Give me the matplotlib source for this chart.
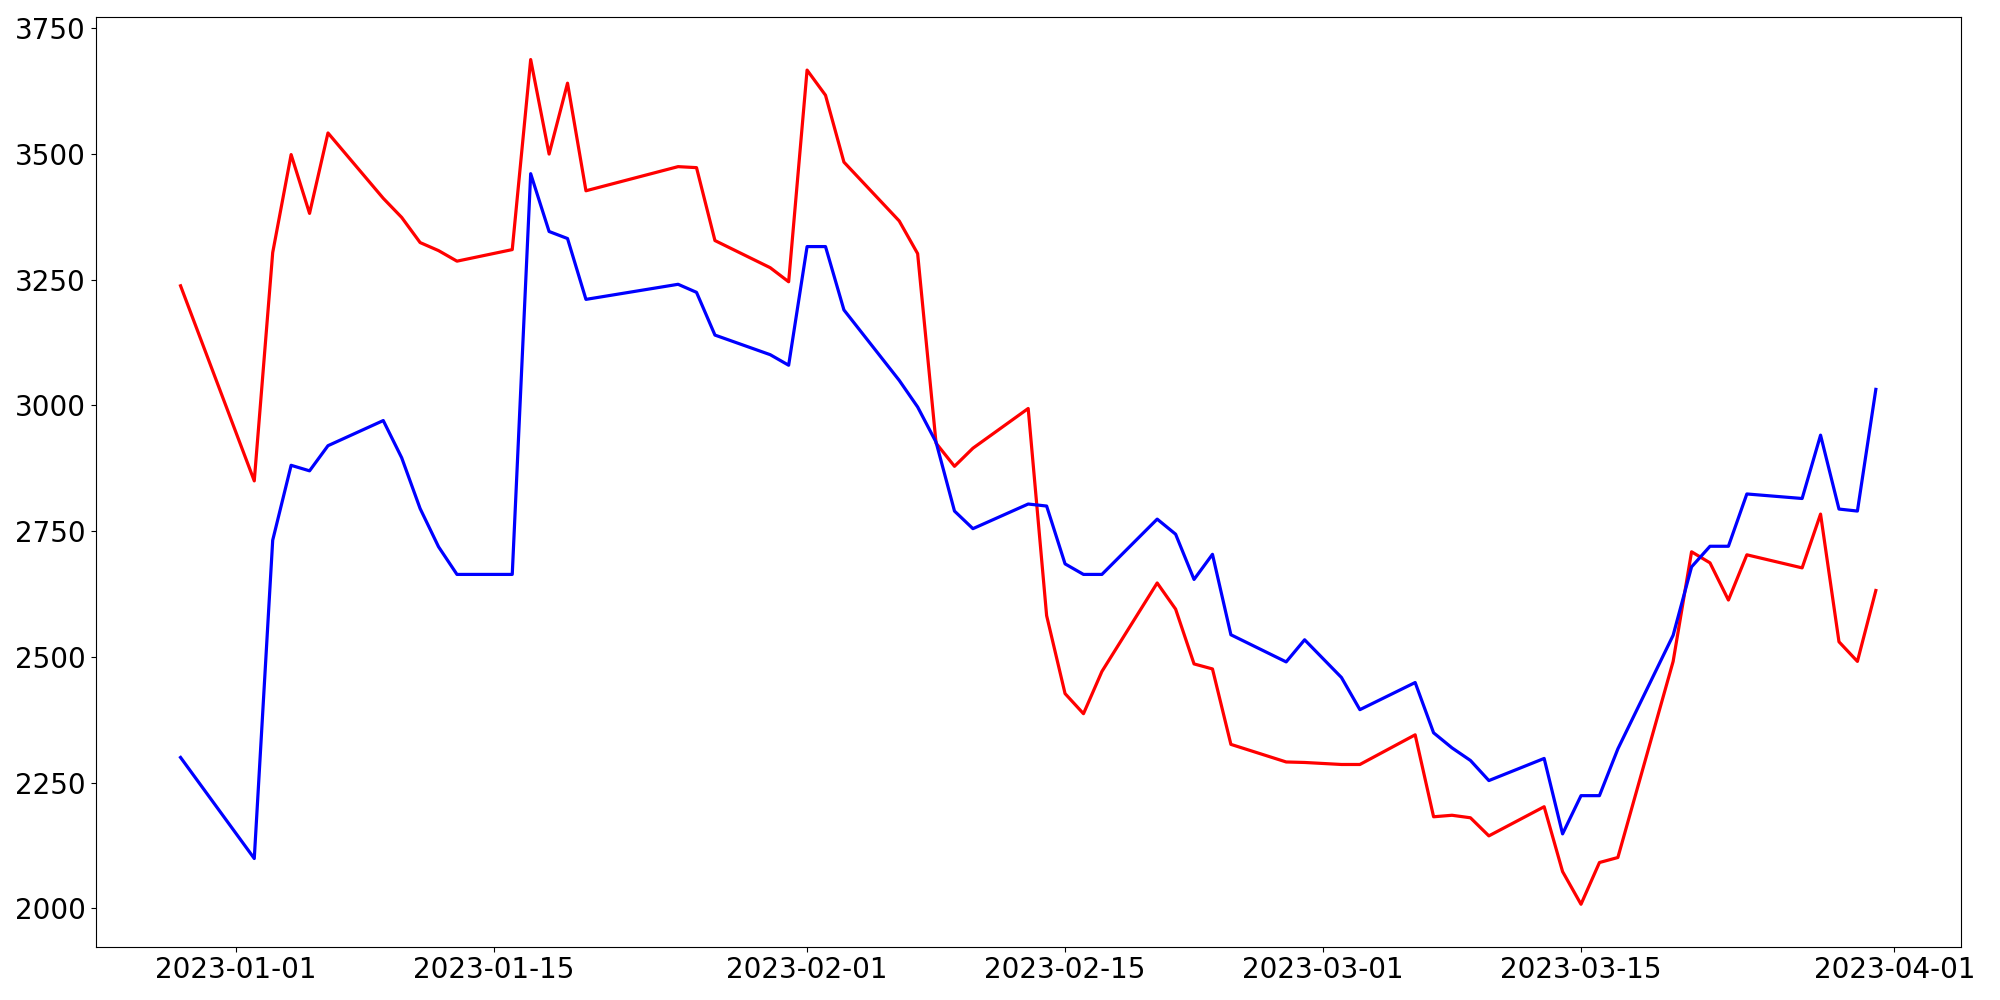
import matplotlib
matplotlib.use("Agg")
import matplotlib.pyplot as plt
import matplotlib.dates as mdates
import pandas as pd

dates = ["2022-12-29", "2023-01-02", "2023-01-03", "2023-01-04", "2023-01-05", "2023-01-06",
         "2023-01-09", "2023-01-10", "2023-01-11", "2023-01-12", "2023-01-13", "2023-01-16",
         "2023-01-17", "2023-01-18", "2023-01-19", "2023-01-20", "2023-01-25", "2023-01-26",
         "2023-01-27", "2023-01-30", "2023-01-31", "2023-02-01", "2023-02-02", "2023-02-03",
         "2023-02-06", "2023-02-07", "2023-02-08", "2023-02-09", "2023-02-10", "2023-02-13",
         "2023-02-14", "2023-02-15", "2023-02-16", "2023-02-17", "2023-02-20", "2023-02-21",
         "2023-02-22", "2023-02-23", "2023-02-24", "2023-02-27", "2023-02-28", "2023-03-02",
         "2023-03-03", "2023-03-06", "2023-03-07", "2023-03-08", "2023-03-09", "2023-03-10",
         "2023-03-13", "2023-03-14", "2023-03-15", "2023-03-16", "2023-03-17", "2023-03-20",
         "2023-03-21", "2023-03-22", "2023-03-23", "2023-03-24", "2023-03-27", "2023-03-28",
         "2023-03-29", "2023-03-30", "2023-03-31"]

red_values = [3238, 2850, 3304, 3499, 3382, 3542,
              3412, 3374, 3324, 3308, 3287, 3310,
              3688, 3500, 3641, 3427, 3475, 3473,
              3328, 3274, 3246, 3667, 3617, 3484,
              3367, 3302, 2925, 2879, 2915, 2994,
              2582, 2427, 2387, 2471, 2647, 2595,
              2486, 2476, 2326, 2291, 2290, 2286,
              2286, 2345, 2182, 2185, 2180, 2144,
              2202, 2073, 2008, 2091, 2101, 2491,
              2709, 2687, 2613, 2703, 2677, 2784,
              2530, 2491, 2632]

blue_values = [2300, 2099, 2732, 2881, 2870, 2920,
               2970, 2896, 2795, 2719, 2664, 2664,
               3461, 3346, 3332, 3211, 3241, 3225,
               3140, 3101, 3080, 3316, 3316, 3190,
               3050, 2997, 2927, 2790, 2755, 2804,
               2800, 2685, 2664, 2664, 2774, 2744,
               2654, 2704, 2544, 2490, 2534, 2459,
               2395, 2449, 2349, 2319, 2294, 2254,
               2298, 2148, 2224, 2224, 2317, 2543,
               2679, 2720, 2720, 2824, 2815, 2941,
               2794, 2790, 3032]

y_ticks = [2000, 2250, 2500, 2750, 3000, 3250, 3500, 3750]
x_ticks = ["2023-01-01", "2023-01-15", "2023-02-01", "2023-02-15",
           "2023-03-01", "2023-03-15", "2023-04-01"]

x = pd.to_datetime(dates)

fig = plt.figure(figsize=(20, 10), dpi=100)
ax = fig.add_axes([0.0479, 0.0535, 0.9324, 0.9292])
ax.plot(x, red_values, color="red", linewidth=2.3)
ax.plot(x, blue_values, color="blue", linewidth=2.3)
ax.set_yticks(y_ticks)
ax.set_xticks(pd.to_datetime(x_ticks))
ax.xaxis.set_major_formatter(mdates.DateFormatter("%Y-%m-%d"))
ax.tick_params(labelsize=20)
fig.savefig("out.png", dpi=100)
